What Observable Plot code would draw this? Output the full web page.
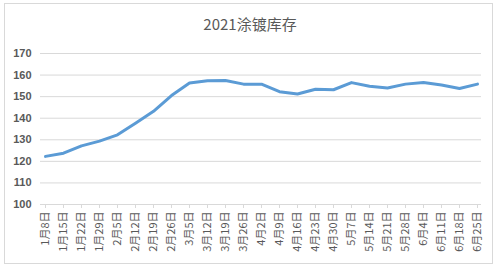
<!DOCTYPE html>
<html><head><meta charset="utf-8">
<script src="https://cdn.jsdelivr.net/npm/d3@7"></script>
<script src="https://cdn.jsdelivr.net/npm/@observablehq/plot@0.6"></script>
<style>
body{margin:0;background:#fff;}
#wrap{position:relative;width:500px;height:268px;overflow:hidden;background:#fff;}
#frame{position:absolute;left:4px;top:3px;width:489px;height:261px;border:1px solid #d9d9d9;box-sizing:border-box;}
#title{position:absolute;left:0;top:13px;width:500px;text-align:center;font:15px "Noto Sans CJK SC","Noto Sans",sans-serif;color:#595959;}
#chart{position:absolute;left:0;top:0;}
</style></head>
<body><div id="wrap"><div id="frame"></div><div id="title">2021涂镀库存</div><div id="chart"></div></div>
<script>
const dates = ["1月8日","1月15日","1月22日","1月29日","2月5日","2月12日","2月19日","2月26日","3月5日","3月12日","3月19日","3月26日","4月2日","4月9日","4月16日","4月23日","4月30日","5月7日","5月14日","5月21日","5月28日","6月4日","6月11日","6月18日","6月25日"];
const values = [122.3,123.8,127.2,129.4,132.3,137.7,143.2,150.5,156.3,157.4,157.5,155.8,155.8,152.3,151.2,153.4,153.2,156.5,154.8,154.0,155.8,156.6,155.4,153.8,155.8];
const yTicks = [100,110,120,130,140,150,160,170];
const data = dates.map((d,i)=>({date:d, value:values[i]}));
const chart = Plot.plot({
  width:500, height:268,
  marginLeft:40, marginRight:19, marginTop:53, marginBottom:64,
  style:{fontFamily:'"Noto Sans CJK SC","Noto Sans",sans-serif', fontSize:"10px", color:"#595959", background:"transparent"},
  x:{type:"point", domain:dates, padding:0},
  y:{domain:[100,170]},
  marks:[
    Plot.gridY(yTicks.slice(1), {stroke:"#d9d9d9", strokeOpacity:1}),
    Plot.ruleY([100], {stroke:"#d9d9d9"}),
    Plot.axisY(yTicks, {tickSize:0, tickPadding:9, label:null, fill:"#595959", fontWeight:"bold", fontSize:11, fontFamily:"'Liberation Sans',sans-serif"}),
    Plot.axisX({tickRotate:-90, tickSize:4, tickPadding:3, label:null, stroke:"#d9d9d9", fill:"#595959", fontSize:11}),
    Plot.line(data, {x:"date", y:"value", stroke:"#5b9bd5", strokeWidth:3, strokeLinejoin:"round", strokeLinecap:"round"})
  ]
});
document.getElementById("chart").appendChild(chart);
</script></body></html>
